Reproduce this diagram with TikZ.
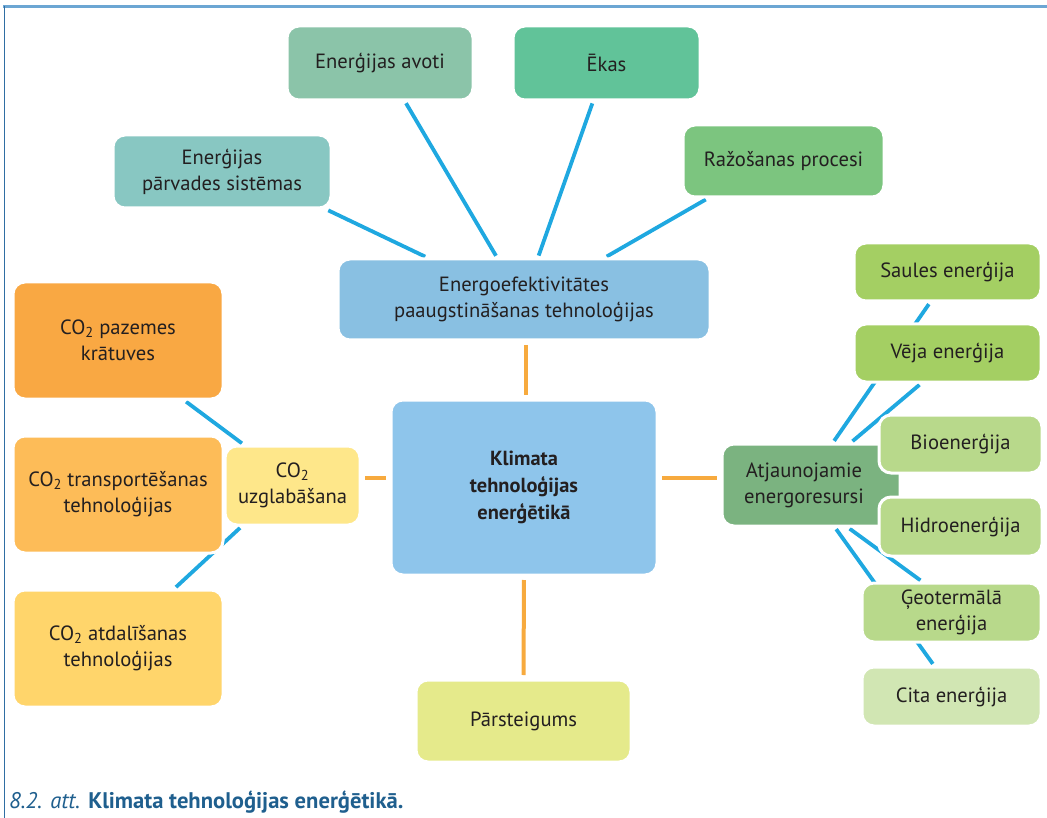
\documentclass[tikz,border=0pt]{standalone}
\usepackage{fontspec}
\setmainfont{PT Sans}
\usetikzlibrary{calc}
\definecolor{txt}{HTML}{231F20}
\definecolor{lnblue}{HTML}{1FA8E0}
\definecolor{lnorange}{HTML}{F7AA3E}
\definecolor{capblue}{HTML}{1F5F8E}
\definecolor{frametop}{HTML}{6CA6D3}
\definecolor{frameleft}{HTML}{2F6EA3}
\definecolor{cAvoti}{HTML}{8BC4A9}
\definecolor{cEkas}{HTML}{61C399}
\definecolor{cParv}{HTML}{88C7C2}
\definecolor{cRazo}{HTML}{7CC57F}
\definecolor{cEff}{HTML}{89C0E2}
\definecolor{cKlim}{HTML}{8EC5EB}
\definecolor{cParst}{HTML}{E5EA8B}
\definecolor{cUzgl}{HTML}{FEE78A}
\definecolor{cPaz}{HTML}{F9A843}
\definecolor{cTrans}{HTML}{FDBC58}
\definecolor{cAtdal}{HTML}{FFD56B}
\definecolor{cAtj}{HTML}{7BB380}
\definecolor{cSaul}{HTML}{A4CF63}
\definecolor{cBio}{HTML}{B8D98B}
\definecolor{cCita}{HTML}{D1E6B3}
\pgfdeclarelayer{bg}
\pgfsetlayers{bg,main}
\newcommand\cotwo{CO\textsubscript{2}}
\tikzset{
  box/.style={rectangle, rounded corners=12pt, draw=white, line width=3pt,
    align=center, inner sep=2pt, text=txt,
    font=\fontsize{20.6}{26}\selectfont},
  blueln/.style={draw=lnblue, line width=3.8pt, shorten <=2pt, shorten >=2pt},
  orangeln/.style={draw=lnorange, line width=4pt, shorten <=3.5pt, shorten >=3.5pt}
}
\begin{document}
\begin{tikzpicture}[x=1pt,y=-1pt]
\useasboundingbox (0,0) rectangle (1047,818);
% frame
\draw[frametop, line width=2.5pt] (3,6.5) -- (1047,6.5);
\draw[frameleft, line width=1.5pt] (4.5,6) -- (4.5,818);

% top cluster
\node[box, fill=cAvoti, minimum width=186pt, minimum height=74pt] (avoti) at (380,63) {Enerģijas avoti};
\node[box, fill=cEkas, minimum width=187pt, minimum height=74pt] (ekas) at (606.5,63) {Ēkas};
\node[box, fill=cParv, minimum width=218pt, minimum height=73pt] (parv) at (222,171.5) {Enerģijas\\pārvades sistēmas};
\node[box, fill=cRazo, minimum width=201pt, minimum height=72pt] (razo) at (783.5,161) {Ražošanas procesi};
\node[box, fill=cEff, minimum width=372pt, minimum height=81pt] (eff) at (524,299.5) {Energoefektivitātes\\paaugstināšanas tehnoloģijas};

% centre
\node[box, fill=cKlim, minimum width=266pt, minimum height=175pt, font=\fontsize{20.4}{27}\selectfont\bfseries] (klim) at (524,487.5) {Klimata\\tehnoloģijas\\enerģētikā};
\node[box, fill=cParst, minimum width=215pt, minimum height=82pt] (parst) at (523.5,721) {Pārsteigums};

% left cluster
\node[box, fill=cPaz, minimum width=210pt, minimum height=117pt] (paz) at (118,340.5) {\cotwo{} pazemes\\krātuves};
\node[box, fill=cTrans, minimum width=210pt, minimum height=117pt] (trans) at (118,494.5) {\cotwo{} transportēšanas\\tehnoloģijas};
\node[box, fill=cAtdal, minimum width=210pt, minimum height=117pt] (atdal) at (118,648.5) {\cotwo{} atdalīšanas\\tehnoloģijas};
\node[box, fill=cUzgl, minimum width=135pt, minimum height=79pt] (uzgl) at (292.5,485.5) {\cotwo\\uzglabāšana};

% right cluster
\node[box, fill=cAtj, minimum width=178pt, minimum height=82pt, text width=160pt] (atj) at (811,485) {\hspace*{-14pt}Atjaunojamie\\\hspace*{-14pt}energoresursi};
\node[box, fill=cSaul, minimum width=187pt, minimum height=58pt] (saul) at (947.5,272) {Saules enerģija};
\node[box, fill=cSaul, minimum width=187pt, minimum height=58pt] (veja) at (947.5,353) {Vēja enerģija};
\node[box, fill=cBio, minimum width=163pt, minimum height=58pt] (bio) at (960.5,444) {Bioenerģija};
\node[box, fill=cBio, minimum width=163pt, minimum height=59pt] (hidro) at (960.5,526.5) {Hidroenerģija};
\node[box, fill=cBio, minimum width=179pt, minimum height=59pt] (geo) at (951.5,612.5) {Ģeotermālā\\enerģija};
\node[box, fill=cCita, minimum width=179pt, minimum height=59pt] (cita) at (951.5,696.5) {Cita enerģija};

% caption
\node[anchor=base west, inner sep=0pt, text=capblue, font=\fontsize{22.6}{26}\selectfont] (cap) at (9,808)
  {\itshape 8.2. att. \bfseries\upshape Klimata tehnoloģijas enerģētikā.};

% connectors behind the boxes
\begin{pgfonlayer}{bg}
\draw[blueln] ([xshift=-97pt]eff.north) -- ([xshift=-6pt]parv.south east);
\draw[blueln] ([xshift=-27pt]eff.north) -- ([xshift=25pt]avoti.south);
\draw[blueln] ([xshift=14pt]eff.north) -- ([xshift=-13.5pt]ekas.south);
\draw[blueln] ([xshift=81pt]eff.north) -- ([xshift=-76pt]razo.south);

\draw[blueln] ([xshift=20pt]uzgl.north west) -- ([xshift=-40pt]paz.south east);
\draw[blueln] ([xshift=18pt]uzgl.south west) -- ([xshift=-50pt]atdal.north east);

\draw[blueln] ([xshift=22pt]atj.north) -- ([xshift=-17.5pt]saul.south);
\draw[blueln] ([xshift=40pt]atj.north) -- ([xshift=-26.5pt]veja.south);
\draw[blueln] ([xshift=37pt]atj.south) -- ([xshift=-29.5pt]geo.north);
\draw[blueln] ([xshift=24pt]atj.south) -- ([xshift=-17.5pt]cita.north);

\draw[orangeln] ([xshift=2pt]eff.south) -- ([xshift=2pt]klim.north);
\draw[orangeln] (klim.south) -- (parst.north);
\draw[orangeln] ([yshift=9.5pt]klim.west) -- ([yshift=7.5pt]uzgl.east);
\draw[orangeln] ([yshift=9.5pt]klim.east) -- ([yshift=7pt]atj.west);
\end{pgfonlayer}
\end{tikzpicture}
\end{document}
